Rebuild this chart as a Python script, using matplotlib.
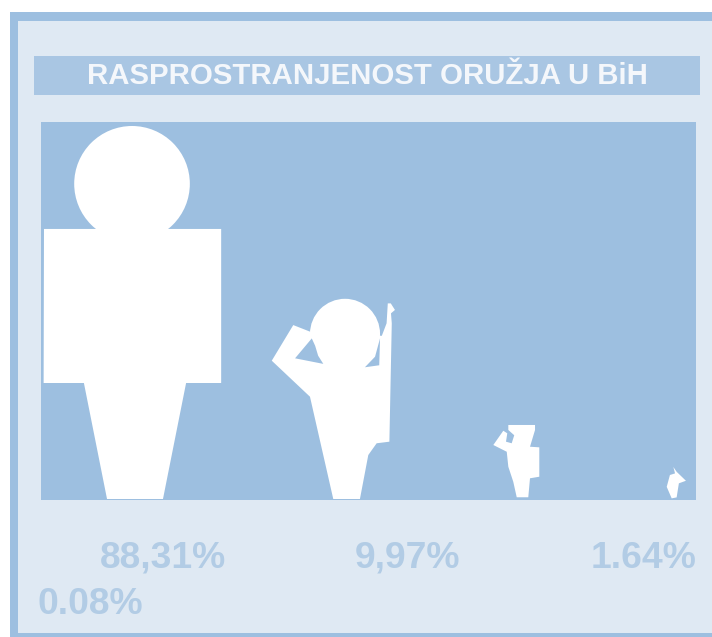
import matplotlib
matplotlib.use("Agg")
import matplotlib.pyplot as plt
import numpy as np
from matplotlib.patches import Circle, Polygon, Rectangle

title = "RASPROSTRANJENOST ORUŽJA U BiH"
labels = ["88,31%", "9,97%", "1.64%", "0.08%"]
label_x = [163, 408, 644, 90]
label_y = [558, 558, 558, 605]

# height of each figure in pixels, foot line is the bottom of the panel
fig_heights = [373, 199, 75, 32]
fig_centers = [135, 346, 521, 676]

FRAME = "#9dbfe0"
LIGHT = "#dfe9f3"
TEXT = "#b2cce5"
baseline = 499


# outlines are relative to the foot centre, as a fraction of the figure height
def scaled(outline, cx, h):
    pts = np.array(outline, dtype=float)
    return np.column_stack([cx + pts[:, 0] * h, baseline - pts[:, 1] * h])


big_body = [(-0.245, 0.311), (-0.137, 0.311), (-0.075, 0), (0.075, 0), (0.137, 0.311),
            (0.231, 0.311), (0.231, 0.724), (-0.244, 0.724)]
big_head = (-0.008, 0.845, 0.155)

mid_body = [(-0.265, 0.874), (-0.181, 0.841), (0, 0.83), (0.18, 0.82), (0.204, 0.883),
            (0.21, 0.983), (0.225, 0.983), (0.246, 0.95), (0.226, 0.933), (0.23, 0.883),
            (0.218, 0.288), (0.154, 0.28), (0.112, 0.221), (0.07, 0), (-0.064, 0),
            (-0.181, 0.514), (-0.373, 0.695)]
mid_head = (-0.005, 0.83, 0.176)
mid_hole_l = [(-0.172, 0.807), (-0.256, 0.707), (-0.114, 0.679), (-0.14, 0.72), (-0.155, 0.77)]
mid_hole_r = [(0.171, 0.807), (0.167, 0.672), (0.095, 0.662), (0.146, 0.715)]

small_body = [(-0.169, 0.987), (0.187, 0.987), (0.187, 0.92), (0.12, 0.697), (0.244, 0.689),
              (0.244, 0.297), (0.12, 0.276), (0.097, 0.023), (-0.057, 0.023), (-0.103, 0.23),
              (-0.169, 0.43), (-0.19, 0.63), (-0.369, 0.72), (-0.236, 0.91), (-0.183, 0.876),
              (-0.2, 0.764), (-0.124, 0.743), (-0.09, 0.85), (-0.169, 0.92)]

tiny_body = [(-0.083, 1.0), (0.02, 0.85), (0.31, 0.57), (0.09, 0.49), (0.02, 0.05),
             (-0.135, 0.02), (-0.29, 0.38), (-0.19, 0.75), (-0.03, 0.8)]

fig = plt.figure(figsize=(7.12, 6.37), dpi=100, facecolor="white")
ax = fig.add_axes([0, 0, 1, 1])
ax.set_xlim(0, 712)
ax.set_ylim(637, 0)
ax.axis("off")

ax.add_patch(Rectangle((10, 12), 702, 625, fc=FRAME, ec="none"))
ax.add_patch(Rectangle((18, 21), 694, 612, fc=LIGHT, ec="none"))
ax.add_patch(Rectangle((34, 56), 666, 39, fc="#a9c6e3", ec="none"))
ax.add_patch(Rectangle((41, 122), 655, 378, fc=FRAME, ec="none"))

ax.text(367, 76, title, color="#f4f7fb", fontsize=21.2, fontweight="bold",
        family="Liberation Sans", ha="center", va="center")

for txt, x, y in zip(labels, label_x, label_y):
    ax.text(x, y, txt, color=TEXT, fontsize=26.8, fontweight="bold",
            family="Liberation Sans", ha="center", va="center")

# big figure
h, cx = fig_heights[0], fig_centers[0]
ax.add_patch(Polygon(scaled(big_body, cx, h), fc="white", ec="none"))
hx, hy, hr = big_head
ax.add_patch(Circle((cx + hx * h, baseline - hy * h), hr * h, fc="white", ec="none"))

# soldier with rifle
h, cx = fig_heights[1], fig_centers[1]
ax.add_patch(Polygon(scaled(mid_body, cx, h), fc="white", ec="none"))
hx, hy, hr = mid_head
ax.add_patch(Circle((cx + hx * h, baseline - hy * h), hr * h, fc="white", ec="none"))
ax.add_patch(Polygon(scaled(mid_hole_l, cx, h), fc=FRAME, ec="none"))
ax.add_patch(Polygon(scaled(mid_hole_r, cx, h), fc=FRAME, ec="none"))

# small ones
ax.add_patch(Polygon(scaled(small_body, fig_centers[2], fig_heights[2]), fc="white", ec="none"))
ax.add_patch(Polygon(scaled(tiny_body, fig_centers[3], fig_heights[3]), fc="white", ec="none"))

fig.savefig("out.png", dpi=100, facecolor="white")
